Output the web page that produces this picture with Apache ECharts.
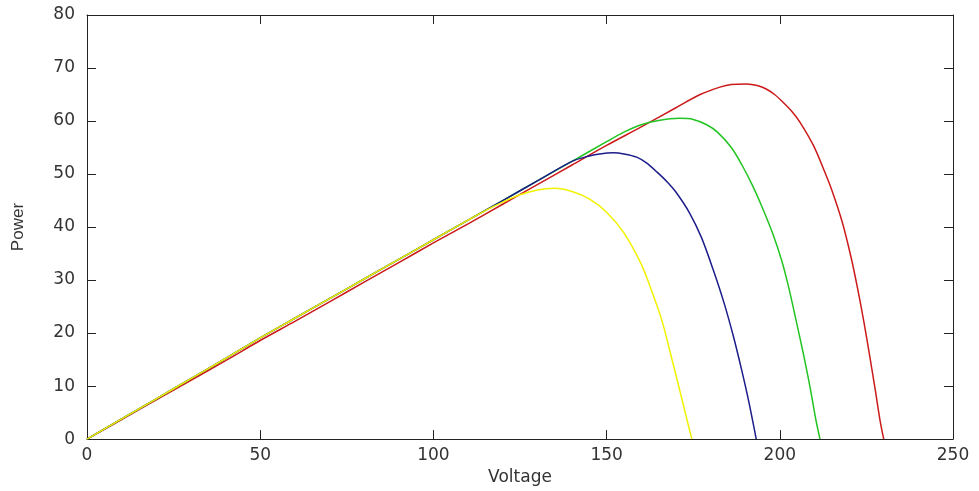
<!DOCTYPE html>
<html>
<head>
<meta charset="utf-8">
<script src="https://cdn.jsdelivr.net/npm/echarts@6/dist/echarts.min.js"></script>
<style>
  html, body { margin: 0; padding: 0; background: #fff; }
  #chart { width: 979px; height: 491px; }
</style>
</head>
<body>
<div id="chart"></div>
<script>
// [voltage, power] pairs
const yellowPts = [[0, 0], [10, 3.8], [20, 7.6], [30, 11.4], [40, 15.2], [50, 19.1], [60, 22.8], [70, 26.5],
  [80, 30.2], [90, 33.9], [100, 37.6], [110, 41.3], [115, 43.1], [120, 44.7], [125, 46.1], [130, 47.0],
  [135, 47.3], [140, 46.7], [145, 45.3], [150, 42.8], [155, 38.9], [160, 33.0], [163, 28.0],
  [166, 22.3], [168.5, 16.0], [171, 9.5], [173, 4.2], [174.6, 0]]
const bluePts = [[0, 0], [10, 3.8], [20, 7.6], [30, 11.4], [40, 15.2], [50, 19.1], [60, 22.8], [70, 26.5],
  [80, 30.2], [90, 33.9], [100, 37.6], [110, 41.3], [120, 45.0], [130, 48.7], [140, 52.4], [145, 53.4],
  [148, 53.8], [152, 54.0], [155, 53.8], [158.7, 53.2], [161.5, 52.1], [164.5, 50.4], [167.5, 48.5],
  [170, 46.6], [174, 42.6], [177.4, 38.0], [180.8, 31.9], [183.9, 25.7], [186.6, 19.4], [189, 13.0],
  [191, 7.2], [193.2, 0]]
const greenPts = [[0, 0], [10, 3.8], [20, 7.6], [30, 11.4], [40, 15.2], [50, 19.1], [60, 22.8], [70, 26.5],
  [80, 30.2], [90, 33.9], [100, 37.6], [110, 41.3], [120, 45.0], [130, 48.7], [140, 52.4], [150, 56.1],
  [155, 57.9], [160, 59.3], [165, 60.1], [171, 60.5], [175, 60.3], [178.9, 59.3], [182, 57.9],
  [186, 55.0], [189, 51.8], [192, 48.0], [195, 43.6], [198, 38.7], [200.5, 33.8], [202.5, 28.8],
  [204.7, 22.4], [206.8, 16.1], [208.7, 9.9], [210.4, 3.7], [211.6, 0]]
const redPts = [[0, 0], [10, 3.7], [20, 7.4], [30, 11.1], [40, 14.8], [50, 18.6], [60, 22.2], [70, 25.9],
  [80, 29.6], [90, 33.3], [100, 37.0], [110, 40.6], [120, 44.3], [130, 48.0], [140, 51.7], [150, 55.4],
  [160, 58.9], [170, 62.5], [177, 65.0], [182.7, 66.4], [186, 66.9], [190.4, 67.0], [193.5, 66.7],
  [196.2, 66.0], [198.5, 65.0], [201, 63.5], [203.5, 61.8], [205.8, 59.8], [209.7, 55.4], [212.6, 51.0],
  [215, 47.0], [218, 41.0], [220.5, 34.5], [222.5, 28.3], [224.3, 22.0], [226, 15.5], [227.5, 9.5],
  [229, 3.3], [230, 0]]

const xMin = 0, xMax = 250, xStep = 50
const yMin = 0, yMax = 80, yStep = 10

const chart = echarts.init(document.getElementById('chart'))

const labelStyle = {
  color: '#333',
  fontFamily: 'DejaVu Sans',
  fontSize: 17
}
const lineStyle = { color: '#222', width: 1 }

function makeSeries (name, pts, color) {
  return {
    name: name,
    type: 'line',
    data: pts,
    smooth: 0.3,
    showSymbol: false,
    lineStyle: { color: color, width: 1.5 },
    xAxisIndex: 0,
    yAxisIndex: 0
  }
}

const option = {
  animation: false,
  backgroundColor: '#fff',
  grid: {
    left: 87,
    right: 26,
    top: 15,
    bottom: 48
  },
  xAxis: [
    {
      type: 'value',
      min: xMin,
      max: xMax,
      interval: xStep,
      name: 'Voltage',
      nameLocation: 'middle',
      nameGap: 27,
      nameTextStyle: { color: '#333', fontFamily: 'DejaVu Sans', fontSize: 17 },
      axisLine: { show: true, onZero: false, lineStyle: lineStyle },
      axisTick: { show: true, inside: true, length: 9, lineStyle: lineStyle },
      axisLabel: Object.assign({ margin: 8 }, labelStyle),
      splitLine: { show: false }
    },
    {
      type: 'value',
      position: 'top',
      min: xMin,
      max: xMax,
      interval: xStep,
      axisLine: { show: true, onZero: false, lineStyle: lineStyle },
      axisTick: { show: true, inside: true, length: 9, lineStyle: lineStyle },
      axisLabel: { show: false },
      splitLine: { show: false }
    }
  ],
  yAxis: [
    {
      type: 'value',
      min: yMin,
      max: yMax,
      interval: yStep,
      name: 'Power',
      nameLocation: 'middle',
      nameGap: 60,
      nameTextStyle: { color: '#333', fontFamily: 'Liberation Sans', fontSize: 17 },
      axisLine: { show: true, onZero: false, lineStyle: lineStyle },
      axisTick: { show: true, inside: true, length: 9, lineStyle: lineStyle },
      axisLabel: Object.assign({ margin: 12 }, labelStyle),
      splitLine: { show: false }
    },
    {
      type: 'value',
      position: 'right',
      min: yMin,
      max: yMax,
      interval: yStep,
      axisLine: { show: true, onZero: false, lineStyle: lineStyle },
      axisTick: { show: true, inside: true, length: 9, lineStyle: lineStyle },
      axisLabel: { show: false },
      splitLine: { show: false }
    }
  ],
  series: [
    makeSeries('red', redPts, '#cc1a1a'),
    makeSeries('green', greenPts, '#22c422'),
    makeSeries('blue', bluePts, '#1c1c8a'),
    makeSeries('yellow', yellowPts, '#f2f200')
  ]
}

chart.setOption(option)
</script>
</body>
</html>
